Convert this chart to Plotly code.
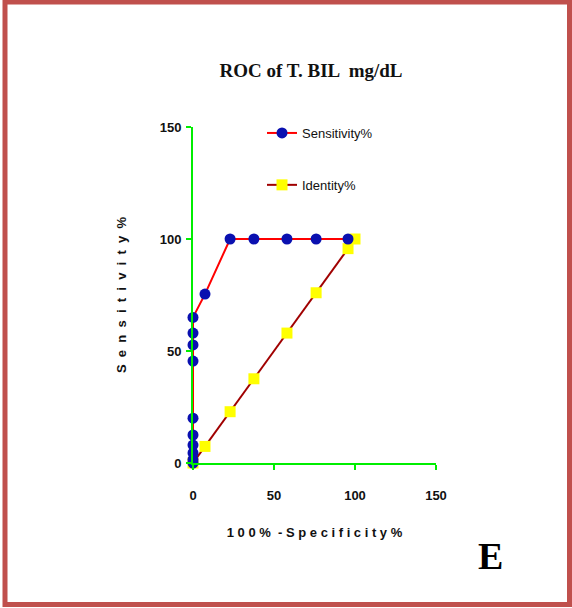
import plotly.graph_objects as go

# Data
sens_x = [0, 0, 0, 0, 0, 0, 0, 0, 0, 0, 7.4, 22.9, 37.6, 58, 76, 95.7]
sens_y = [0, 1.5, 4.5, 8, 12.5, 20, 45.5, 52.7, 58, 65, 75.4, 100, 100, 100, 100, 100]
ident_x = [0, 7.4, 22.9, 37.6, 58, 76, 95.7, 100]
ident_y = [0, 7.4, 22.9, 37.6, 58, 76, 95.7, 100]
tick_vals = [0, 50, 100, 150]

W, H = 572, 608
L, R = 193, 436
T, B = 127, 463
pw, ph = R - L, B - T

def px(x):
    return (x - L) / pw

def py(y):
    return (B - y) / ph

narrow = "Liberation Sans Narrow, Arial Narrow, Liberation Sans, Arial"

fig = go.Figure()
fig.add_trace(go.Scatter(
    x=ident_x, y=ident_y, mode="lines+markers", name="Identity%",
    line=dict(color="#A00000", width=2),
    marker=dict(symbol="square", size=11, color="#FFFF00"),
    cliponaxis=False, legendgroup="b", legendrank=2,
))
fig.add_trace(go.Scatter(
    x=sens_x, y=sens_y, mode="lines+markers", name="Sensitivity%",
    line=dict(color="#FF0000", width=2),
    marker=dict(symbol="circle", size=11, color="#0A10B0"),
    cliponaxis=False, legendgroup="a", legendrank=1,
))

axis_common = dict(
    range=[0, 150], tickvals=tick_vals, showgrid=False, zeroline=False,
    showline=True, linecolor="#00EE00", linewidth=2,
    ticks="outside", tickcolor="#00EE00", ticklen=5, tickwidth=2,
    tickfont=dict(family=narrow, size=13, color="#111111", weight="bold"),
)

fig.update_layout(
    width=W, height=H,
    margin=dict(l=L, r=W - R, t=T, b=H - B, pad=0),
    paper_bgcolor="white", plot_bgcolor="white",
    title=dict(text="<b>ROC of T. BIL  mg/dL</b>", x=(311) / W, xanchor="center",
               y=1 - 70 / H, yanchor="middle",
               font=dict(family="Liberation Serif, Times New Roman, serif", size=19, color="#111111")),
    xaxis=dict(**axis_common, ticklabelstandoff=14,
               title=dict(text="<b>1 0 0 %  - S p e c i f i c i t y %</b>", standoff=26,
                          font=dict(family=narrow, size=13, color="#111111"))),
    yaxis=dict(**axis_common, ticklabelstandoff=2,
               title=dict(text="<b>S  e  n  s  i  t  i  v  i  t  y  %</b>", standoff=30,
                          font=dict(family="Liberation Sans, Arial", size=13, color="#111111"))),
    legend=dict(x=px(262), y=py(118), xanchor="left", yanchor="top",
                bgcolor="rgba(0,0,0,0)", tracegroupgap=32, traceorder="grouped",
                font=dict(family=narrow, size=13, color="#111111"), itemwidth=30),
    showlegend=True,
)

fig.add_annotation(
    text="<b>E</b>", xref="paper", yref="paper", x=px(490), y=py(556),
    xanchor="center", yanchor="middle", showarrow=False,
    font=dict(family="Liberation Serif, Times New Roman, serif", size=38, color="#000000"),
)

fig.add_shape(
    type="rect", xref="paper", yref="paper",
    x0=px(5), x1=px(569.5), y0=py(2), y1=py(604.5),
    line=dict(color="#C0504D", width=5), fillcolor="rgba(0,0,0,0)", layer="below",
)

fig.write_html("out.html")
